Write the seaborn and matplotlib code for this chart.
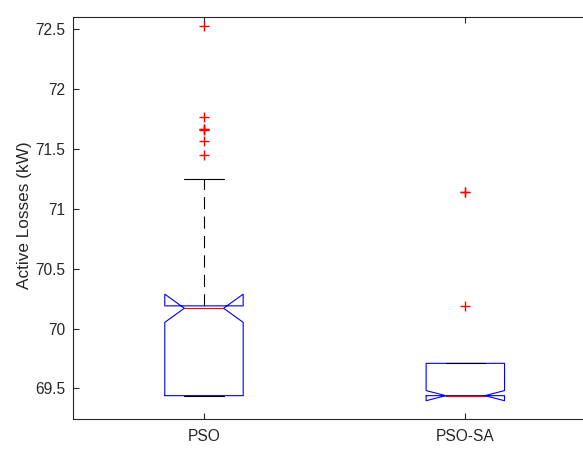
import numpy as np
import pandas as pd
import matplotlib
matplotlib.use("Agg")
import matplotlib.pyplot as plt
import seaborn as sns

# run results (kW), written as value / how many runs gave it
methods = ["PSO", "PSO-SA"]

pso_values = [69.44, 69.55, 69.70, 69.85, 70.00, 70.17, 70.19, 70.30, 70.50,
              70.80, 71.00, 71.25, 71.45, 71.57, 71.66, 71.67, 71.77, 72.53]
pso_counts = [30, 4, 5, 5, 5, 20, 12, 3, 3, 3, 2, 1, 1, 1, 1, 2, 1, 1]

sa_values = [69.44, 69.50, 69.60, 69.71, 70.19, 71.14]
sa_counts = [55, 5, 8, 29, 1, 2]

yticks = [69.5, 70, 70.5, 71, 71.5, 72, 72.5]
ytick_labels = ["69.5", "70", "70.5", "71", "71.5", "72", "72.5"]

df = pd.DataFrame({
    "method": ["PSO"] * sum(pso_counts) + ["PSO-SA"] * sum(sa_counts),
    "loss": list(np.repeat(pso_values, pso_counts)) + list(np.repeat(sa_values, sa_counts)),
})

sns.set_style("white")
plt.rcParams["font.family"] = ["Liberation Sans", "DejaVu Sans"]
plt.rcParams["font.size"] = 11

fig = plt.figure(figsize=(5.83, 4.5), dpi=100)
# axes run past the right edge of the picture, as in the original
ax = fig.add_axes([73.3 / 583, 31 / 450, (596 - 73.3) / 583, (419 - 16.7) / 450])

sns.boxplot(data=df, x="method", y="loss", order=methods, ax=ax,
            fill=False, width=0.3, notch=True, whis=1.5,
            boxprops=dict(color="blue", linewidth=0.8),
            medianprops=dict(color="red", linewidth=0.8),
            whiskerprops=dict(color="black", linewidth=0.8, linestyle=(0, (11, 6.5))),
            capprops=dict(color="black", linewidth=0.8),
            flierprops=dict(marker="+", markeredgecolor="red", markerfacecolor="none",
                            markersize=7, markeredgewidth=1, linestyle="none"))

ax.set_xlim(-0.5, 1.5)
ax.set_ylim(69.245, 72.605)
ax.set_yticks(yticks)
ax.set_yticklabels(ytick_labels)
ax.set_xlabel("")
ax.set_ylabel("Active Losses (kW)", color="#262626", fontsize=12.4)
ax.yaxis.set_label_coords(-0.079, 0.507)

for s in ax.spines.values():
    s.set_color("#262626")
    s.set_linewidth(0.8)
ax.tick_params(direction="in", length=4, width=0.8, left=True, bottom=True,
               top=True, right=True, colors="#262626", labelcolor="#262626",
               labelsize=11.2)
ax.tick_params(axis="x", pad=7)
ax.tick_params(axis="y", pad=6)

plt.savefig("out.png", dpi=100)
